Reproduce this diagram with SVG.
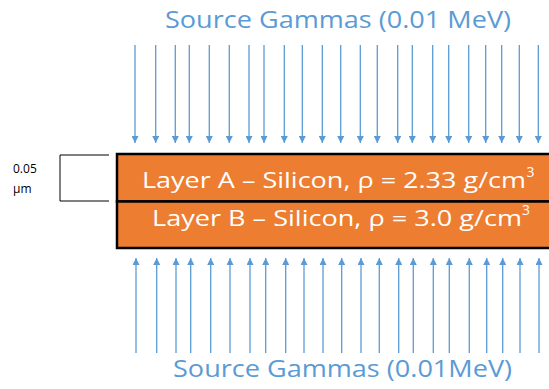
<svg xmlns="http://www.w3.org/2000/svg" width="549" height="389" viewBox="0 0 549 389">
<defs>
<style>
.arr{stroke:#5B9BD5;stroke-width:1.3;fill:none}
.title{font-family:"Open Sans","Liberation Sans",sans-serif;font-size:24px;fill:#5B9BD5}
.lay{font-family:"Open Sans","Liberation Sans",sans-serif;font-size:22px;fill:#FFFFFF}
.sup{font-size:14px}
.lbl{font-family:"Open Sans","Liberation Sans",sans-serif;font-size:12px;fill:#000}
</style>
<marker id="ah" viewBox="0 0 10 10" refX="10" refY="5" markerWidth="8" markerHeight="7" markerUnits="userSpaceOnUse" orient="auto">
<path d="M0,0 L10,5 L0,10 Z" fill="#5B9BD5"/>
</marker>
</defs>
<rect width="549" height="389" fill="#FFFFFF"/>
<g id="title-top"><text class="title" x="165" y="28" textLength="346" lengthAdjust="spacingAndGlyphs">Source Gammas (0.01 MeV)</text></g>
<g id="title-bottom"><text class="title" x="173" y="377" textLength="339" lengthAdjust="spacingAndGlyphs">Source Gammas (0.01MeV)</text></g>
<g id="connectors">
<g id="arrows-top">
<line class="arr" x1="135" y1="45" x2="135" y2="143" marker-end="url(#ah)"/>
<line class="arr" x1="155.7" y1="45" x2="155.7" y2="143" marker-end="url(#ah)"/>
<line class="arr" x1="175.3" y1="45" x2="175.3" y2="143" marker-end="url(#ah)"/>
<line class="arr" x1="189.3" y1="45" x2="189.3" y2="143" marker-end="url(#ah)"/>
<line class="arr" x1="209.3" y1="45" x2="209.3" y2="143" marker-end="url(#ah)"/>
<line class="arr" x1="229.3" y1="45" x2="229.3" y2="143" marker-end="url(#ah)"/>
<line class="arr" x1="249" y1="45" x2="249" y2="143" marker-end="url(#ah)"/>
<line class="arr" x1="264" y1="45" x2="264" y2="143" marker-end="url(#ah)"/>
<line class="arr" x1="284.3" y1="45" x2="284.3" y2="143" marker-end="url(#ah)"/>
<line class="arr" x1="302.3" y1="45" x2="302.3" y2="143" marker-end="url(#ah)"/>
<line class="arr" x1="322.3" y1="45" x2="322.3" y2="143" marker-end="url(#ah)"/>
<line class="arr" x1="340.7" y1="45" x2="340.7" y2="143" marker-end="url(#ah)"/>
<line class="arr" x1="360.3" y1="45" x2="360.3" y2="143" marker-end="url(#ah)"/>
<line class="arr" x1="377.3" y1="45" x2="377.3" y2="143" marker-end="url(#ah)"/>
<line class="arr" x1="397.7" y1="45" x2="397.7" y2="143" marker-end="url(#ah)"/>
<line class="arr" x1="412.3" y1="45" x2="412.3" y2="143" marker-end="url(#ah)"/>
<line class="arr" x1="432.7" y1="45" x2="432.7" y2="143" marker-end="url(#ah)"/>
<line class="arr" x1="448.7" y1="45" x2="448.7" y2="143" marker-end="url(#ah)"/>
<line class="arr" x1="468.7" y1="45" x2="468.7" y2="143" marker-end="url(#ah)"/>
<line class="arr" x1="485.7" y1="45" x2="485.7" y2="143" marker-end="url(#ah)"/>
<line class="arr" x1="501.7" y1="45" x2="501.7" y2="143" marker-end="url(#ah)"/>
<line class="arr" x1="519.3" y1="45" x2="519.3" y2="143" marker-end="url(#ah)"/>
<line class="arr" x1="538.3" y1="45" x2="538.3" y2="143" marker-end="url(#ah)"/>
</g>
<g id="arrows-bottom">
<line class="arr" x1="136" y1="353" x2="136" y2="258" marker-end="url(#ah)"/>
<line class="arr" x1="156.7" y1="353" x2="156.7" y2="258" marker-end="url(#ah)"/>
<line class="arr" x1="176" y1="353" x2="176" y2="258" marker-end="url(#ah)"/>
<line class="arr" x1="190.7" y1="353" x2="190.7" y2="258" marker-end="url(#ah)"/>
<line class="arr" x1="210.7" y1="353" x2="210.7" y2="258" marker-end="url(#ah)"/>
<line class="arr" x1="230" y1="353" x2="230" y2="258" marker-end="url(#ah)"/>
<line class="arr" x1="250" y1="353" x2="250" y2="258" marker-end="url(#ah)"/>
<line class="arr" x1="265.7" y1="353" x2="265.7" y2="258" marker-end="url(#ah)"/>
<line class="arr" x1="285.7" y1="353" x2="285.7" y2="258" marker-end="url(#ah)"/>
<line class="arr" x1="304" y1="353" x2="304" y2="258" marker-end="url(#ah)"/>
<line class="arr" x1="323" y1="353" x2="323" y2="258" marker-end="url(#ah)"/>
<line class="arr" x1="341.7" y1="353" x2="341.7" y2="258" marker-end="url(#ah)"/>
<line class="arr" x1="361" y1="353" x2="361" y2="258" marker-end="url(#ah)"/>
<line class="arr" x1="379.3" y1="353" x2="379.3" y2="258" marker-end="url(#ah)"/>
<line class="arr" x1="398.7" y1="353" x2="398.7" y2="258" marker-end="url(#ah)"/>
<line class="arr" x1="413.3" y1="353" x2="413.3" y2="258" marker-end="url(#ah)"/>
<line class="arr" x1="433.3" y1="353" x2="433.3" y2="258" marker-end="url(#ah)"/>
<line class="arr" x1="449.3" y1="353" x2="449.3" y2="258" marker-end="url(#ah)"/>
<line class="arr" x1="469.3" y1="353" x2="469.3" y2="258" marker-end="url(#ah)"/>
<line class="arr" x1="486.7" y1="353" x2="486.7" y2="258" marker-end="url(#ah)"/>
<line class="arr" x1="502.7" y1="353" x2="502.7" y2="258" marker-end="url(#ah)"/>
<line class="arr" x1="520" y1="353" x2="520" y2="258" marker-end="url(#ah)"/>
<line class="arr" x1="539" y1="353" x2="539" y2="258" marker-end="url(#ah)"/>
</g>
</g>
<g id="layer-a">
<rect x="117" y="154" width="440" height="47.5" fill="#ED7D31" stroke="#000" stroke-width="2.5"/>
<text class="lay" x="142" y="188" textLength="384" lengthAdjust="spacingAndGlyphs">Layer A – Silicon, ρ = 2.33 g/cm</text>
<text class="lay sup" x="526.5" y="177">3</text>
</g>
<g id="layer-b">
<rect x="117" y="201.5" width="440" height="46.5" fill="#ED7D31" stroke="#000" stroke-width="2.5"/>
<text class="lay" x="152" y="226" textLength="370" lengthAdjust="spacingAndGlyphs">Layer B – Silicon, ρ = 3.0 g/cm</text>
<text class="lay sup" x="522" y="215">3</text>
</g>
<g id="thickness">
<path d="M109,155 H60 V201 H109" fill="none" stroke="#000" stroke-width="1"/>
<text class="lbl" x="13" y="173">0.05</text>
<text class="lbl" x="13" y="193">µm</text>
</g>
</svg>
